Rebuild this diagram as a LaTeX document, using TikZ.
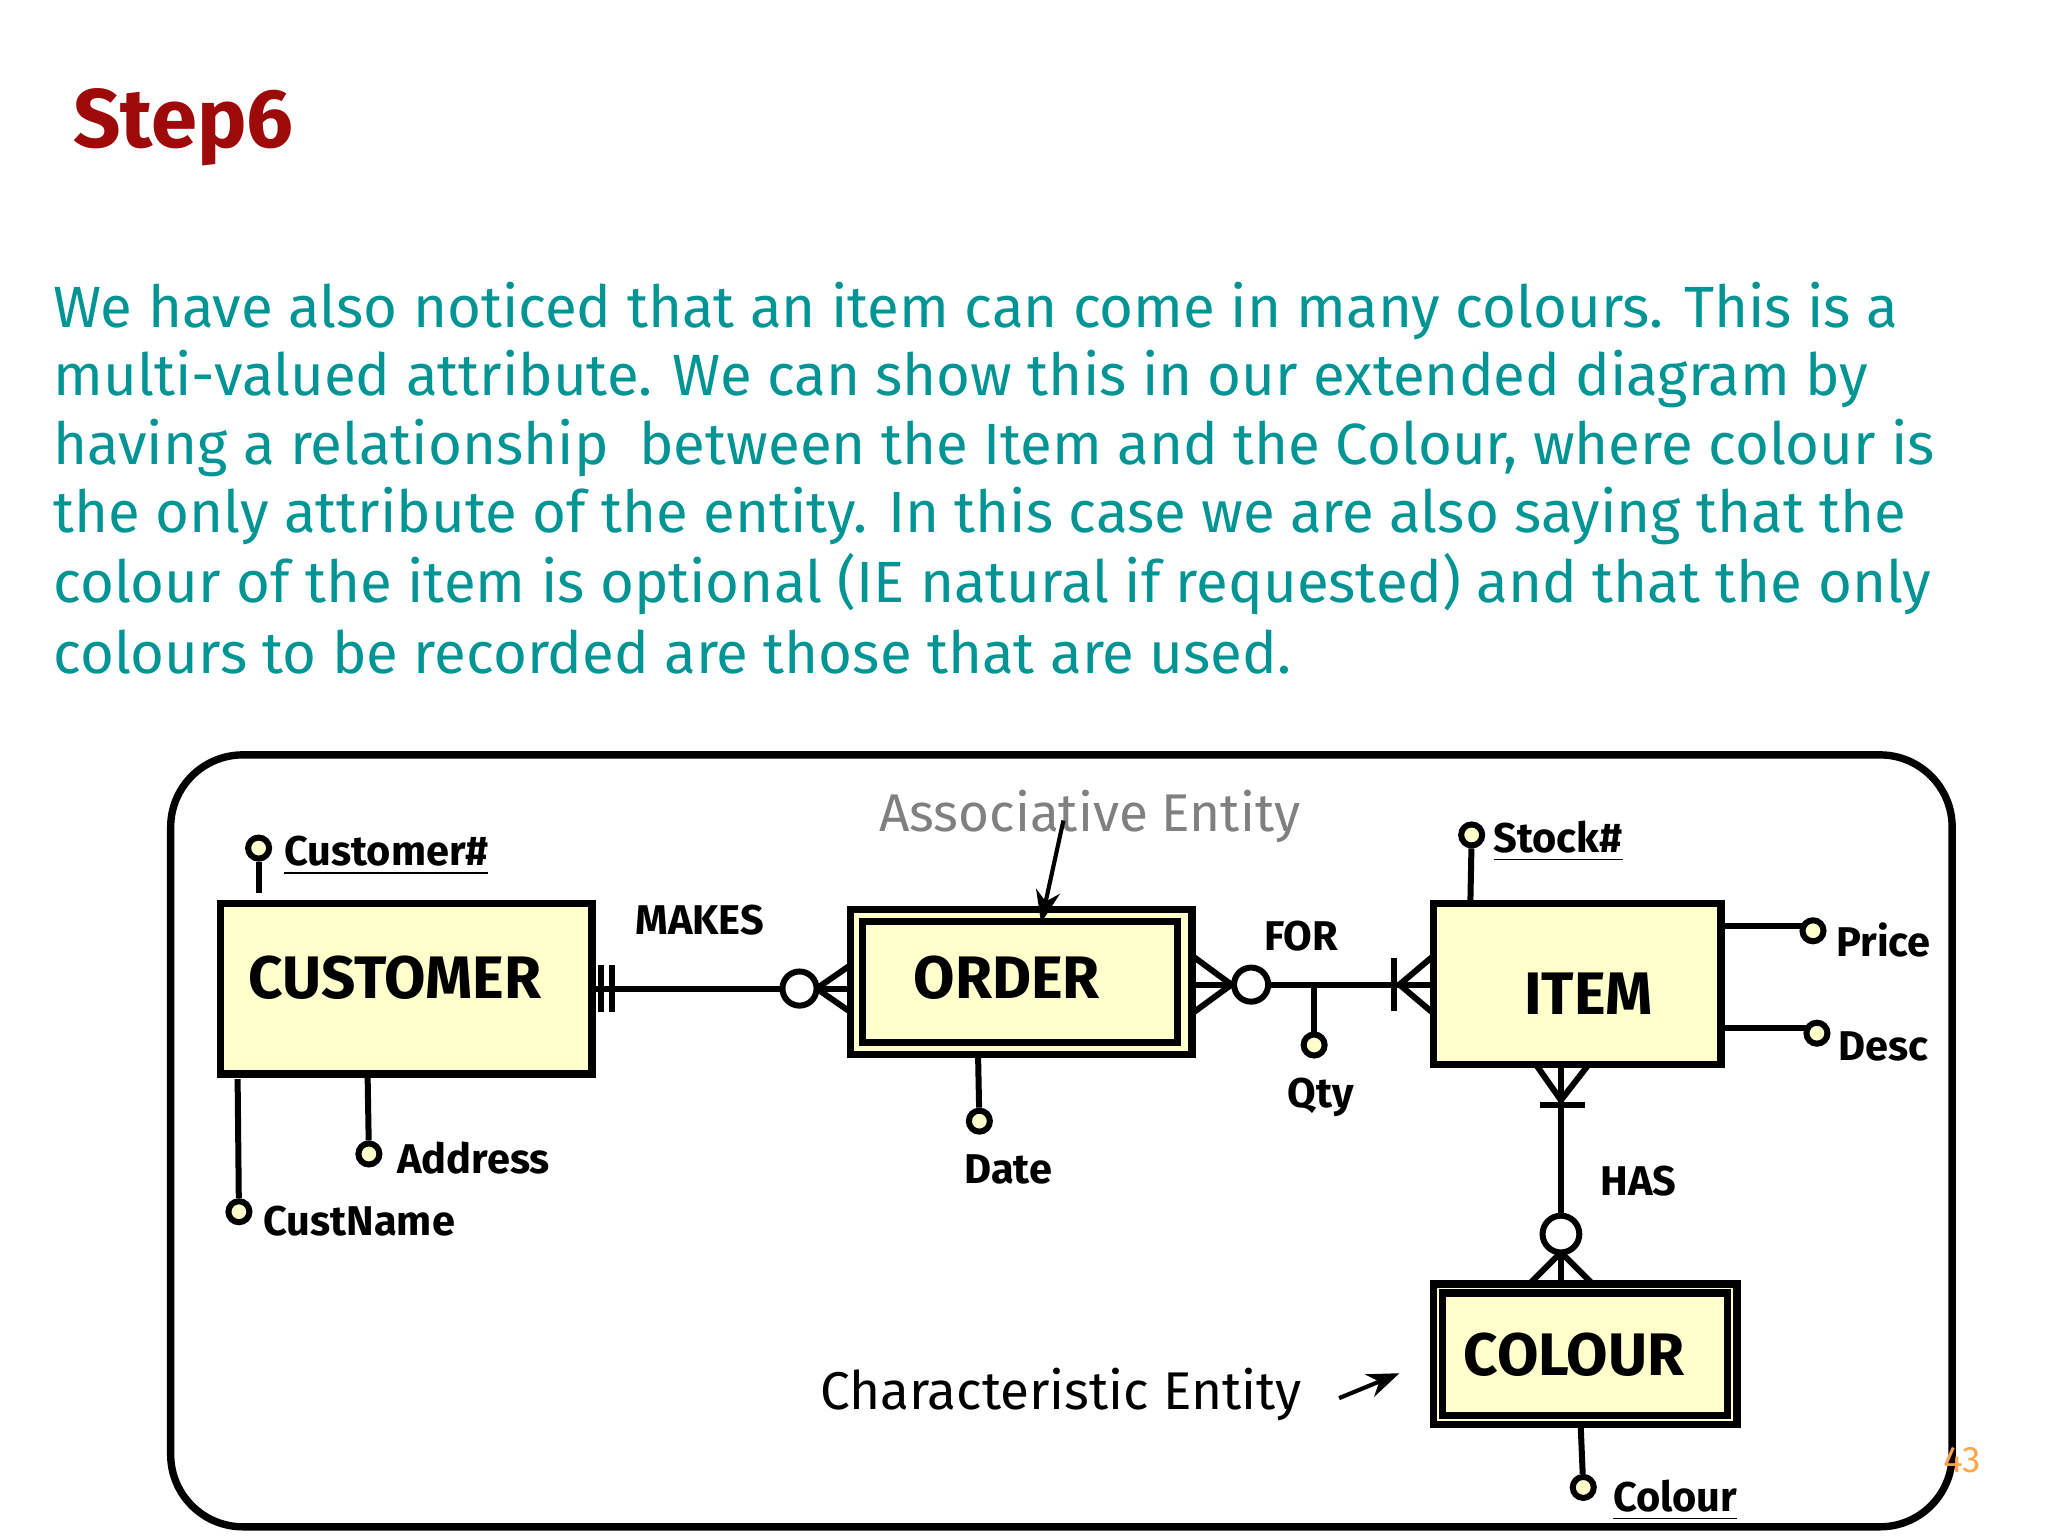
\documentclass[tikz,border=0pt]{standalone}
\usepackage{fontspec}
\setmainfont{Fira Sans}
\usetikzlibrary{arrows.meta}
\definecolor{ent}{HTML}{FFFFCC}
\definecolor{teal2}{HTML}{009494}
\definecolor{dred}{HTML}{9E0A0A}
\tikzset{
 ent/.style={draw,line width=1.6pt,fill=ent},
 lnk/.style={line width=1.3pt},
 att/.style={draw,line width=1.3pt,fill=ent,circle,inner sep=0pt,minimum size=0.16cm},
 atxt/.style={font=\fontsize{9}{10}\selectfont\bfseries,inner sep=0pt},
 etxt/.style={font=\fontsize{13}{14}\selectfont\bfseries,inner sep=0pt},
 para/.style={anchor=west,text=teal2,font=\fontsize{12.6}{14}\selectfont,inner sep=0pt},
}
\begin{document}
\begin{tikzpicture}[x=0.01cm,y=-0.01cm]
\useasboundingbox (0,0) rectangle (1560,1170);
\node[anchor=west,text=dred,font=\fontsize{18}{20}\selectfont\bfseries,inner sep=0pt] (title) at (55,97) {Step6};
\node[para] (p1) at (40,237) {We have also noticed that an item can come in many colours. This is a};
\node[para] (p2) at (40,289) {multi-valued attribute. We can show this in our extended diagram by};
\node[para] (p3) at (40,341) {having a relationship\ \ between the Item and the Colour, where colour is};
\node[para] (p4) at (40,393) {the only attribute of the entity. In this case we are also saying that the};
\node[para] (p5) at (40,445) {colour of the item is optional (IE natural if requested) and that the only};
\node[para] (p6) at (40,497) {colours to be recorded are those that are used.};
\draw[line width=1.6pt,rounded corners=0.55cm] (130,575) rectangle (1487,1163);
% entities
\draw[ent] (168,688) rectangle (451,818);
\node[etxt] (cust) at (301,745) {CUSTOMER};
\draw[ent] (648,693) rectangle (908,803);
\draw[line width=1.6pt] (657,702) rectangle (897,794);
\node[etxt] (ord) at (767,745) {ORDER};
\draw[ent] (1092,688) rectangle (1311,811);
\node[etxt] (item) at (1210,757) {ITEM};
\draw[ent] (1092,978) rectangle (1323,1085);
\draw[line width=1.6pt] (1099,985) rectangle (1316,1078);
\node[etxt] (col) at (1199,1032) {COLOUR};
% attributes
\coordinate (a1) at (197,688); \node[att] (c1) at (197,646) {}; \draw[lnk] (c1) -- (197,680);
\node[atxt,anchor=west] (t1) at (216,652) {\underline{Customer\#}};
\coordinate (a2) at (280,818); \node[att] (c2) at (281,879) {}; \draw[lnk] (a2) -- (c2);
\node[atxt,anchor=west] (t2) at (302,882) {Address};
\coordinate (a3) at (181,822); \node[att] (c3) at (182,923) {}; \draw[lnk] (a3) -- (c3);
\node[atxt,anchor=west] (t3) at (200,930) {CustName};
\coordinate (a4) at (745,803); \node[att] (c4) at (746,854) {}; \draw[lnk] (a4) -- (c4);
\node[atxt] (t4) at (768,891) {Date};
\coordinate (a5) at (1001,750); \node[att] (c5) at (1001,796) {}; \draw[lnk] (a5) -- (c5);
\node[atxt] (t5) at (1006,836) {Qty};
\coordinate (a6) at (1120,688); \node[att] (c6) at (1121,636) {}; \draw[lnk] (a6) -- (c6);
\node[atxt,anchor=west] (t6) at (1137,641) {\underline{Stock\#}};
\coordinate (a7) at (1311,705); \node[att] (c7) at (1381,709) {}; \draw[lnk] (a7) -- (1373,705);
\node[atxt,anchor=west] (t7) at (1398,716) {Price};
\coordinate (a8) at (1311,783); \node[att] (c8) at (1384,787) {}; \draw[lnk] (a8) -- (1376,783);
\node[atxt,anchor=west] (t8) at (1400,797) {Desc};
\coordinate (a9) at (1204,1085); \node[att] (c9) at (1206,1133) {}; \draw[lnk] (a9) -- (c9);
\node[atxt,anchor=west] (t9) at (1228,1143) {\underline{Colour}};
% MAKES
\coordinate (m1) at (451,753); \coordinate (m2) at (648,753);
\draw[lnk] (m1) -- (596,753) (622,753) -- (m2);
\draw[lnk] (458,735) -- (458,771) (466,735) -- (466,771);
\draw[lnk,fill=white] (609,753) circle (13);
\draw[lnk] (622,753) -- (648,735) (622,753) -- (648,771);
\node[atxt] (makes) at (533,701) {MAKES};
% FOR
\coordinate (f1) at (908,750); \coordinate (f2) at (1092,750);
\draw[lnk] (f1) -- (940,750) (966,750) -- (f2);
\draw[lnk] (938,750) -- (908,728) (938,750) -- (908,772);
\draw[lnk] (953,750) circle (13);
\draw[lnk] (1062,730) -- (1062,770);
\draw[lnk] (1066,750) -- (1092,728) (1066,750) -- (1092,772);
\node[atxt] (for) at (991,713) {FOR};
% HAS
\coordinate (h1) at (1189,811); \coordinate (h2) at (1189,978);
\draw[lnk] (h1) -- (1189,926) (1189,954) -- (h2);
\draw[lnk] (1189,838) -- (1170,811) (1189,838) -- (1210,811);
\draw[lnk] (1173,842) -- (1207,842);
\draw[lnk] (1189,940) circle (14);
\draw[lnk] (1189,954) -- (1165,978) (1189,954) -- (1213,978);
\node[atxt] (has) at (1248,900) {HAS};
% notes
\node[text=gray,font=\fontsize{11.5}{12}\selectfont,inner sep=0pt] (assoc) at (830,622) {Associative Entity};
\draw[-{Stealth[length=7pt]},line width=0.9pt] (810,625) -- (793,703);
\node[font=\fontsize{11.5}{12}\selectfont,inner sep=0pt] (char) at (808,1062) {Characteristic Entity};
\draw[-{Stealth[length=7pt]},line width=0.9pt] (1020,1065) -- (1066,1046);
\node[text=orange!70,font=\fontsize{8}{9}\selectfont,inner sep=0pt] (pg) at (1495,1112) {43};
\end{tikzpicture}
\end{document}
